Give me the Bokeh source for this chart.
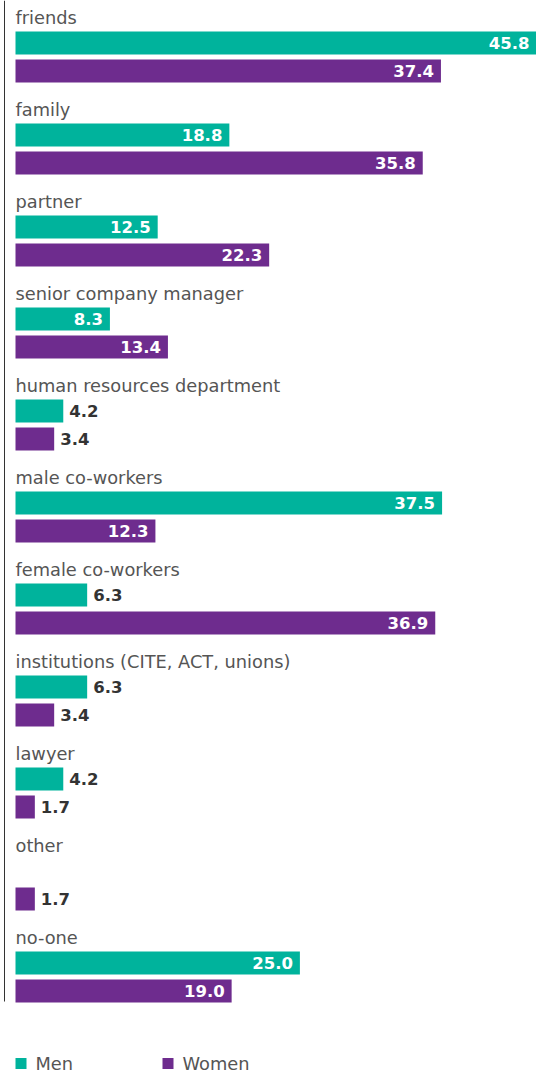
from bokeh.plotting import figure
from bokeh.models import Range1d, ColumnDataSource
from bokeh.core.properties import value
from bokeh.embed import file_html
from bokeh.resources import INLINE

categories = ["friends", "family", "partner", "senior company manager",
              "human resources department", "male co-workers", "female co-workers",
              "institutions (CITE, ACT, unions)", "lawyer", "other", "no-one"]
men = [45.8, 18.8, 12.5, 8.3, 4.2, 37.5, 6.3, 6.3, 4.2, 0.0, 25.0]
women = [37.4, 35.8, 22.3, 13.4, 3.4, 12.3, 36.9, 3.4, 1.7, 1.7, 19.0]
series_names = ["Men", "Women"]

TEAL = "#00B39C"
PURPLE = "#6E2C8E"
FONT = "DejaVu Sans"

W, H = 536, 1074
left_px = 15
xmax = 45.8
scale = (W - left_px) / xmax
x_start = -left_px / scale

p = figure(width=W, height=H, output_backend="svg", toolbar_location=None,
           x_range=Range1d(x_start, xmax), y_range=Range1d(H, 0),
           min_border=0, min_border_left=0, min_border_right=0,
           min_border_top=0, min_border_bottom=0)
p.xaxis.visible = False
p.yaxis.visible = False
p.grid.visible = False
p.outline_line_color = None
p.background_fill_color = "white"

step = 92.0
label_y0 = 17.0
men_y0 = 42.5
women_y0 = 70.5
bar_h = 23

n = len(categories)
label_y = [label_y0 + i * step for i in range(n)]
men_y = [men_y0 + i * step for i in range(n)]
women_y = [women_y0 + i * step for i in range(n)]

# axis line
ax_x = -11 / scale
p.segment(x0=[ax_x], y0=[0], x1=[ax_x], y1=[1001],
          line_color="#333333", line_width=1)

# category labels
p.text(x=[0] * n, y=label_y, text=categories, text_font=value(FONT),
       text_font_size="17.8px", text_color="#555555",
       text_baseline="middle", text_align="left")

threshold = 7.5
for vals, ys, col in [(men, men_y, TEAL), (women, women_y, PURPLE)]:
    src = ColumnDataSource(dict(y=ys, right=vals))
    p.hbar(y="y", left=0, right="right", height=bar_h, source=src,
           fill_color=col, line_color=None)
    inside = [(v, y) for v, y in zip(vals, ys) if v >= threshold]
    outside = [(v, y) for v, y in zip(vals, ys) if 0 < v < threshold]
    if inside:
        p.text(x=[v for v, _ in inside], y=[y for _, y in inside],
               text=[f"{v:.1f}" for v, _ in inside], text_font=value(FONT),
               text_font_style="bold", text_font_size="16.5px", text_color="white",
               text_align="right", text_baseline="middle", x_offset=-7)
    if outside:
        p.text(x=[v for v, _ in outside], y=[y for _, y in outside],
               text=[f"{v:.1f}" for v, _ in outside], text_font=value(FONT),
               text_font_style="bold", text_font_size="16.5px", text_color="#333333",
               text_align="left", text_baseline="middle", x_offset=6)

# legend
leg_y = 1063.0
leg_x = [0.0, 147 / scale]
for name, col, lx in zip(series_names, [TEAL, PURPLE], leg_x):
    p.scatter(x=[lx + 5.5 / scale], y=[leg_y], marker="square", size=11,
              fill_color=col, line_color=None)
    p.text(x=[lx + 20 / scale], y=[leg_y], text=[name], text_font=value(FONT),
           text_font_size="17.8px", text_color="#555555",
           text_baseline="middle", text_align="left")

open("out.html", "w").write(file_html(p, INLINE))
